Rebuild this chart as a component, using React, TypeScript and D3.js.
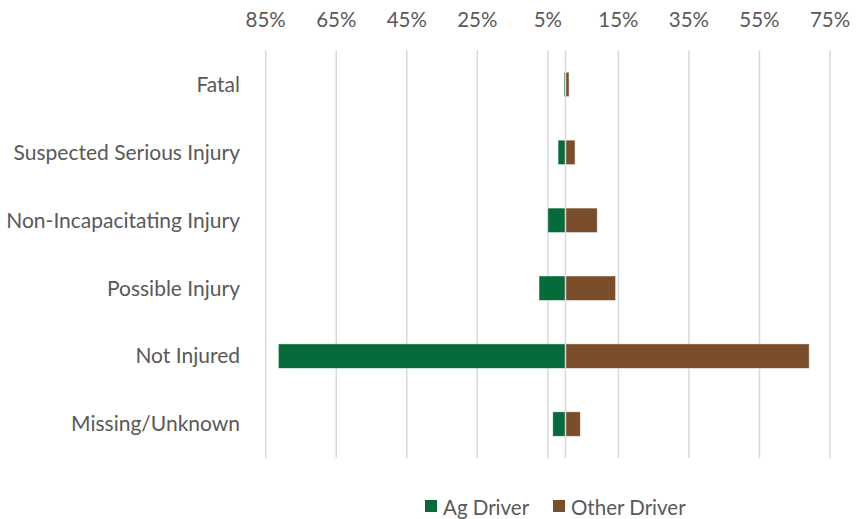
import React from "react";
import * as d3 from "d3";

const categories = [
  "Fatal",
  "Suspected Serious Injury",
  "Non-Incapacitating Injury",
  "Possible Injury",
  "Not Injured",
  "Missing/Unknown",
];
const agDriver = [0.4, 2.1, 5.0, 7.5, 81.4, 3.6];
const otherDriver = [1.0, 2.7, 9.0, 14.2, 69.1, 4.2];
const tickValues = [-85, -65, -45, -25, -5, 15, 35, 55, 75];
const seriesNames = ["Ag Driver", "Other Driver"];
const colors = ["#066A3A", "#7A4E2B"];

const W = 862;
const H = 519;
const FONT = "Lato, 'Open Sans', sans-serif";
const TEXT = "#595959";

export default function App() {
  const x = d3.scaleLinear().domain([-85, 75]).range([265.7, 830]);
  const y = d3
    .scaleBand<string>()
    .domain(categories)
    .range([50.5, 458])
    .paddingInner(0.64)
    .paddingOuter(0.32);
  const bh = y.bandwidth();
  return (
    <svg width={W} height={H} style={{ position: "absolute", left: 0, top: 0, background: "#fff" }}>
      <g>
        {tickValues.map((t) => (
          <line key={t} x1={x(t)} x2={x(t)} y1={50.5} y2={458} stroke="#d9d9d9" strokeWidth={1.5} />
        ))}
        {tickValues.map((t) => (
          <text key={"l" + t} x={x(t)} y={27} textAnchor="middle" fontFamily={FONT} fontSize={20.5} fill={TEXT}>
            {Math.abs(t) + "%"}
          </text>
        ))}
      </g>
      <g>
        {categories.map((c, i) => (
          <g key={c}>
            <rect
              x={x(-agDriver[i])}
              y={y(c)!}
              width={x(0) - x(-agDriver[i])}
              height={bh}
              fill={colors[0]}
              stroke="#ffffff"
              strokeOpacity={0.6}
              strokeWidth={0.75}
            />
            <rect
              x={x(0)}
              y={y(c)!}
              width={x(otherDriver[i]) - x(0)}
              height={bh}
              fill={colors[1]}
              stroke="#ffffff"
              strokeOpacity={0.6}
              strokeWidth={0.75}
            />
            <text
              x={240}
              y={y(c)! + bh / 2}
              dy="0.35em"
              textAnchor="end"
              fontFamily={FONT}
              fontSize={21}
              fill={TEXT}
            >
              {c}
            </text>
          </g>
        ))}
        <line x1={x(0)} x2={x(0)} y1={50.5} y2={458} stroke="#d9d9d9" strokeWidth={1.5} />
      </g>
      <g>
        {seriesNames.map((s, i) => (
          <g key={s} transform={`translate(${i === 0 ? 425 : 553},0)`}>
            <rect x={0} y={500} width={12} height={12} fill={colors[i]} />
            <text x={18} y={515} fontFamily={FONT} fontSize={20.5} fill={TEXT}>
              {s}
            </text>
          </g>
        ))}
      </g>
    </svg>
  );
}
